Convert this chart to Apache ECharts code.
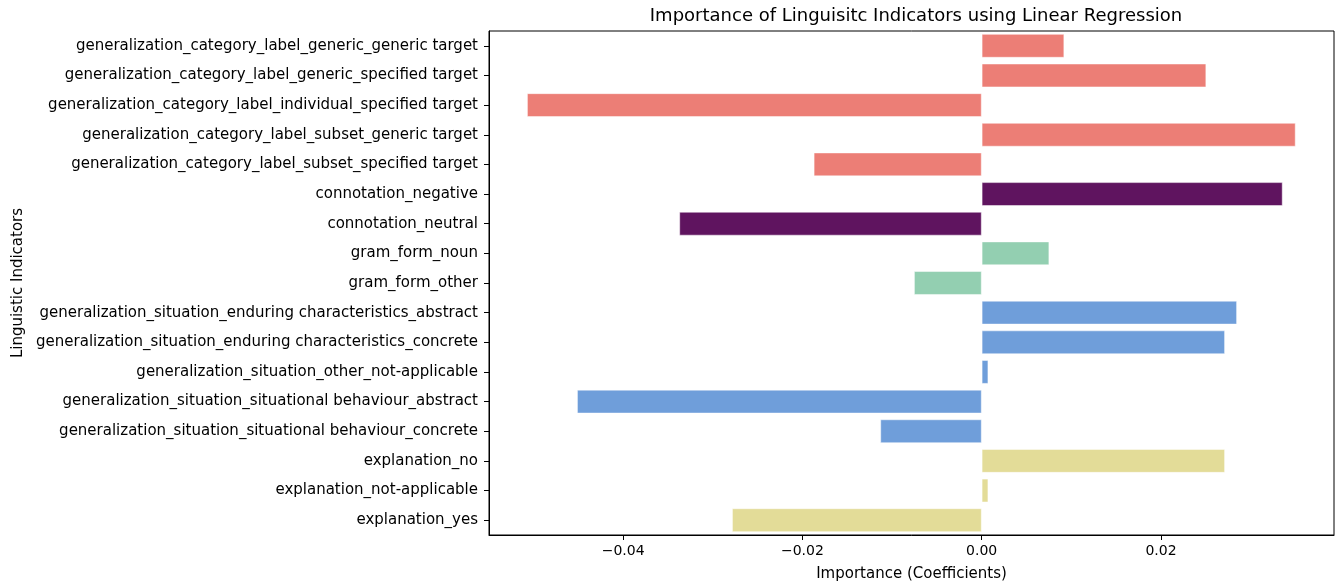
<!DOCTYPE html>
<html>
<head>
<meta charset="utf-8">
<script src="https://cdn.jsdelivr.net/npm/echarts@6/dist/echarts.min.js"></script>
<style>html,body{margin:0;padding:0;background:#fff}#c{width:1341px;height:588px}</style>
</head>
<body>
<div id="c"></div>
<script>
const categories = [
  "generalization_category_label_generic_generic target",
  "generalization_category_label_generic_specified target",
  "generalization_category_label_individual_specified target",
  "generalization_category_label_subset_generic target",
  "generalization_category_label_subset_specified target",
  "connotation_negative",
  "connotation_neutral",
  "gram_form_noun",
  "gram_form_other",
  "generalization_situation_enduring characteristics_abstract",
  "generalization_situation_enduring characteristics_concrete",
  "generalization_situation_other_not-applicable",
  "generalization_situation_situational behaviour_abstract",
  "generalization_situation_situational behaviour_concrete",
  "explanation_no",
  "explanation_not-applicable",
  "explanation_yes"
];
const values = [
  0.00921, 0.02505, -0.05072, 0.03502, -0.01874,
  0.03357, -0.03373,
  0.00754, -0.00755,
  0.02848, 0.02714, 0.00074, -0.04514, -0.01131,
  0.02714, 0.00074, -0.02785
];
const groups = [0,0,0,0,0,1,1,2,2,3,3,3,3,3,4,4,4];
const groupColors = ["#ec7e76", "#5f145f", "#93cfb1", "#6f9eda", "#e3dc98"];
const xTicks = [-0.04, -0.02, 0.00, 0.02];

const font = "DejaVu Sans";
const chart = echarts.init(document.getElementById('c'), null, {renderer: 'canvas'});
chart.setOption({
  animation: false,
  backgroundColor: '#fff',
  title: {
    text: 'Importance of Linguisitc Indicators using Linear Regression',
    left: 911, top: 2, textAlign: 'center',
    textStyle: {fontFamily: font, fontSize: 18, fontWeight: 'normal', color: '#000'}
  },
  grid: {left: 489, right: 7, top: 31, bottom: 53, outerBoundsMode: 'none', containLabel: false,
         show: true, borderColor: '#000', borderWidth: 1, backgroundColor: 'transparent'},
  xAxis: {
    type: 'value', min: -0.05496, max: 0.0393,
    name: 'Importance (Coefficients)', nameLocation: 'middle', nameGap: 32,
    nameTextStyle: {fontFamily: font, fontSize: 15, color: '#000'},
    axisLine: {show: true, onZero: false, lineStyle: {color: '#000', width: 1}},
    axisTick: {show: true, length: 5, lineStyle: {color: '#000'}, customValues: xTicks},
    axisLabel: {
      fontFamily: font, fontSize: 14, color: '#000', margin: 9,
      customValues: xTicks,
      formatter: v => v.toFixed(2).replace('-', '\u2212')
    },
    splitLine: {show: false}
  },
  yAxis: {
    type: 'category', data: categories, inverse: true,
    name: 'Linguistic Indicators', nameLocation: 'middle', nameGap: 463, nameRotate: 90,
    nameTextStyle: {fontFamily: font, fontSize: 15, color: '#000'},
    axisLine: {show: true, onZero: false, lineStyle: {color: '#000', width: 1}},
    axisTick: {show: true, alignWithLabel: true, length: 5, lineStyle: {color: '#000'}},
    axisLabel: {fontFamily: font, fontSize: 15, color: '#000', margin: 11},
    splitLine: {show: false}
  },
  series: [{
    type: 'bar',
    barWidth: '80%',
    data: values.map((v, i) => ({value: v, itemStyle: {color: groupColors[groups[i]], borderColor: 'rgba(255,255,255,0.6)', borderWidth: 0.8}}))
  }]
});
</script>
</body>
</html>
